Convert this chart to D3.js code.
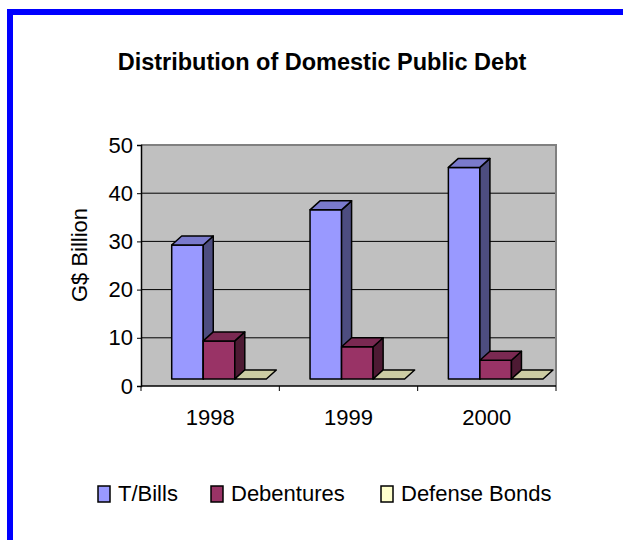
<!DOCTYPE html>
<html><head><meta charset="utf-8">
<script src="https://cdn.jsdelivr.net/npm/d3@7"></script>
<style>html,body{margin:0;padding:0;background:#fff;}svg{display:block;font-family:Arial,"Liberation Sans",sans-serif;}</style>
</head><body>
<script>
const categories = ["1998", "1999", "2000"];
const series = ["T/Bills", "Debentures", "Defense Bonds"];
const tBills = [27.8, 35.1, 43.9];
const debentures = [7.9, 6.7, 3.9];
const defenseBonds = [0, 0, 0];
const yTicks = [0, 10, 20, 30, 40, 50];
const colors = ["#9999FF", "#993366", "#FFFFCC"];

(function () {
const values = [tBills, debentures, defenseBonds];
const W = 623, H = 540;
const svg = d3.select("body").append("svg").attr("width", W).attr("height", H);

// blue frame
svg.append("rect").attr("x", 7).attr("y", 9).attr("width", W).attr("height", 6).attr("fill", "#0000FF");
svg.append("rect").attr("x", 7).attr("y", 9).attr("width", 6).attr("height", H).attr("fill", "#0000FF");

const pL = 141, pR = 556, pT = 145, pB = 386;
const x = d3.scaleBand().domain(categories).range([pL, pR]);
const bw = x.bandwidth();
const xs = d3.scaleBand().domain(series).range([0.222 * bw, 0.222 * bw + 0.684 * bw]);
const y = d3.scaleLinear().domain([0, 50]).range([pB, pT]);
const dx = 10, dy = -9, lift = 7;

// wall
svg.append("rect").attr("x", pL).attr("y", pT).attr("width", pR - pL).attr("height", pB - pT).attr("fill", "#C0C0C0");
svg.append("g").selectAll("line").data(yTicks.filter(d => d > 0)).join("line")
  .attr("x1", pL).attr("x2", pR).attr("y1", d => y(d)).attr("y2", d => y(d))
  .attr("stroke", "#000").attr("stroke-width", 1);
svg.append("path").attr("d", `M${pL},${pT}H${pR}V${pB}`).attr("fill", "none").attr("stroke", "#808080").attr("stroke-width", 2);

// axes
const yAxis = d3.axisLeft(y).tickValues(yTicks).tickSize(4).tickPadding(4);
const gy = svg.append("g").attr("transform", `translate(${pL},0)`).call(yAxis);
gy.select(".domain").attr("stroke", "#000").attr("stroke-width", 1.5);
gy.selectAll(".tick line").attr("stroke", "#000");
gy.selectAll("text").attr("font-size", 22).attr("fill", "#000").attr("font-family", "Arial, 'Liberation Sans', sans-serif");

const xAxis = d3.axisBottom(x).tickSize(0).tickPadding(23);
const gx = svg.append("g").attr("transform", `translate(0,${pB})`).call(xAxis);
gx.select(".domain").remove();
svg.append("line").attr("x1", pL).attr("x2", pR).attr("y1", pB).attr("y2", pB).attr("stroke", "#000").attr("stroke-width", 1.5);
const sep = [...categories.map(c => x(c)), pR];
svg.append("g").selectAll("line").data(sep).join("line")
  .attr("x1", d => d).attr("x2", d => d).attr("y1", pB).attr("y2", pB + 5).attr("stroke", "#000");
gx.selectAll("text").attr("font-size", 22).attr("fill", "#000").attr("font-family", "Arial, 'Liberation Sans', sans-serif");

// bars
function shade(c, k) { const r = d3.rgb(c); return d3.rgb(r.r * k, r.g * k, r.b * k).formatHex(); }
const gb = svg.append("g");
categories.forEach((cat, i) => {
  series.forEach((s, j) => {
    const v = values[j][i];
    const x0 = x(cat) + xs(s), x1 = x0 + xs.bandwidth();
    const yb = y(0) - lift, yt = y(v) - lift;
    const g = gb.append("g").attr("stroke", "#000").attr("stroke-width", 1.5).attr("stroke-linejoin", "round");
    if (yb - yt > 0.5) {
      g.append("path").attr("d", `M${x0},${yb}V${yt}H${x1}V${yb}Z`).attr("fill", colors[j]);
      g.append("path").attr("d", `M${x1},${yb}L${x1 + dx},${yb + dy}V${yt + dy}L${x1},${yt}Z`).attr("fill", shade(colors[j], 0.5));
    }
    g.append("path").attr("d", `M${x0},${yt}L${x0 + dx},${yt + dy}H${x1 + dx}L${x1},${yt}Z`).attr("fill", shade(colors[j], 0.8));
  });
});

// title
svg.append("text").attr("x", 322).attr("y", 70).attr("text-anchor", "middle")
  .attr("font-size", 23.5).attr("font-weight", "bold").text("Distribution of Domestic Public Debt");

// y title
svg.append("text").attr("transform", "translate(87,255) rotate(-90)").attr("text-anchor", "middle")
  .attr("font-size", 22).text("G$ Billion");

// legend
const legX = [98, 211, 381];
const lg = svg.append("g").selectAll("g").data(series).join("g")
  .attr("transform", (d, i) => `translate(${legX[i]},0)`);
lg.append("rect").attr("x", 0).attr("y", 486).attr("width", 12).attr("height", 16)
  .attr("fill", (d, i) => colors[i]).attr("stroke", "#000").attr("stroke-width", 1.5);
lg.append("text").attr("x", 20).attr("y", 501).attr("font-size", 22).text(d => d);
})();
</script>
</body></html>
